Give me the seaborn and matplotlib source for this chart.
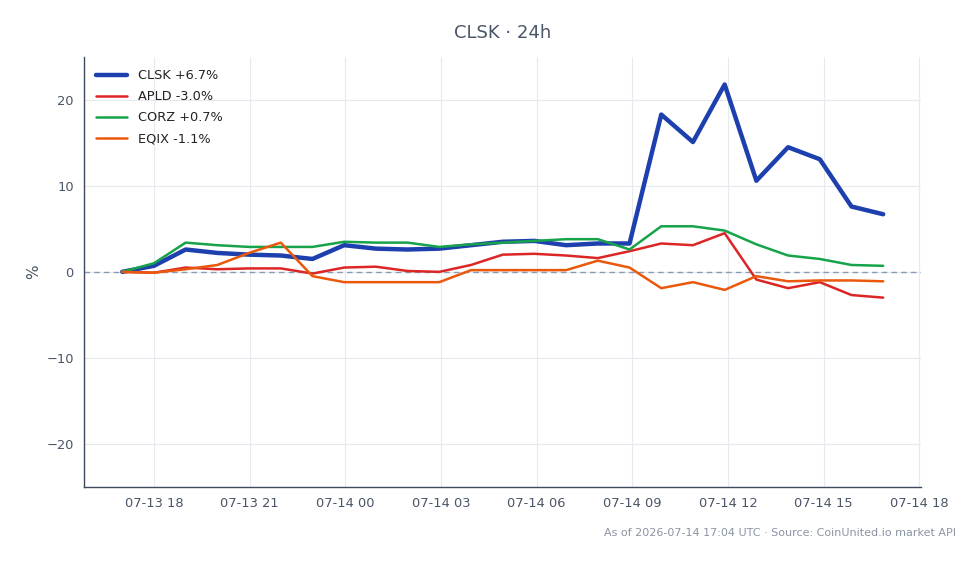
import numpy as np
import pandas as pd
import matplotlib
matplotlib.use("Agg")
import matplotlib.pyplot as plt
import matplotlib.dates as mdates
import seaborn as sns

# ---- data ----
times = pd.date_range("2026-07-13 17:00", "2026-07-14 16:52", periods=25)
tickers = ["CLSK", "APLD", "CORZ", "EQIX"]
clsk = [0.0, 0.7, 2.6, 2.2, 2.0, 1.9, 1.5, 3.1, 2.7, 2.6, 2.7, 3.1, 3.5, 3.6, 3.1, 3.3, 3.3,
        18.3, 15.1, 21.8, 10.6, 14.5, 13.1, 7.6, 6.7]
apld = [0.0, -0.1, 0.5, 0.3, 0.4, 0.4, -0.2, 0.5, 0.6, 0.1, 0.0, 0.8, 2.0, 2.1, 1.9, 1.6, 2.4,
        3.3, 3.1, 4.5, -0.9, -1.9, -1.2, -2.7, -3.0]
corz = [0.0, 1.0, 3.4, 3.1, 2.9, 2.9, 2.9, 3.5, 3.4, 3.4, 2.9, 3.2, 3.4, 3.6, 3.8, 3.8, 2.6,
        5.3, 5.3, 4.8, 3.2, 1.9, 1.5, 0.8, 0.7]
eqix = [0.0, -0.1, 0.3, 0.8, 2.2, 3.4, -0.5, -1.2, -1.2, -1.2, -1.2, 0.2, 0.2, 0.2, 0.2, 1.3,
        0.5, -1.9, -1.2, -2.1, -0.5, -1.1, -1.0, -1.0, -1.1]
changes = ["+6.7%", "-3.0%", "+0.7%", "-1.1%"]
colors = ["#1e40af", "#dc2626", "#16a34a", "#ea580c"]
widths = [3.2, 1.8, 1.8, 1.8]

df = pd.DataFrame({"time": np.tile(times, 4),
                   "ticker": np.repeat(tickers, len(times)),
                   "pct": clsk + apld + corz + eqix})

sns.set_style("white")
plt.rcParams["font.family"] = ["DejaVu Sans"]

fig = plt.figure(figsize=(9.79, 5.64), dpi=100)
ax = fig.add_axes([0.086, 0.137, 0.855, 0.762])

text_col = "#4a5568"
for t, c, w, ch in zip(tickers, colors, widths, changes):
    sns.lineplot(data=df[df.ticker == t], x="time", y="pct", ax=ax, color=c,
                 linewidth=w, label=f"{t} {ch}", zorder=3)

ax.axhline(0, color="#8a9ab0", linestyle=(0, (4, 3)), linewidth=1.0, zorder=2)
ax.set_ylim(-25, 25)
ax.set_yticks([-20, -10, 0, 10, 20])
ax.xaxis.set_major_locator(mdates.HourLocator(byhour=range(0, 24, 3)))
ax.xaxis.set_major_formatter(mdates.DateFormatter("%m-%d %H"))
ax.grid(True, color="#e6e9ee", linewidth=0.8, zorder=0)
ax.set_axisbelow(True)
for s in ["top", "right"]:
    ax.spines[s].set_visible(False)
for s in ["left", "bottom"]:
    ax.spines[s].set_color("#3d4a5c")
    ax.spines[s].set_linewidth(1.0)
ax.tick_params(axis="both", colors=text_col, labelsize=9.4, length=4, width=0.8, direction="out")
ax.tick_params(axis="both", color="#3d4a5c")
ax.set_xlabel("")
ax.set_ylabel("%", color=text_col, fontsize=11)
ax.set_title("CLSK · 24h", color=text_col, fontsize=13, pad=14)

leg = ax.legend(loc="upper left", frameon=False, fontsize=9.3, handlelength=2.4,
                handletextpad=0.8, borderaxespad=0.55, labelspacing=0.62)
for txt in leg.get_texts():
    txt.set_color("#222222")

fig.text(0.977, 0.055, "As of 2026-07-14 17:04 UTC · Source: CoinUnited.io market API",
         ha="right", va="center", color="#8a94a3", fontsize=8)

fig.savefig("out.png", dpi=100)
